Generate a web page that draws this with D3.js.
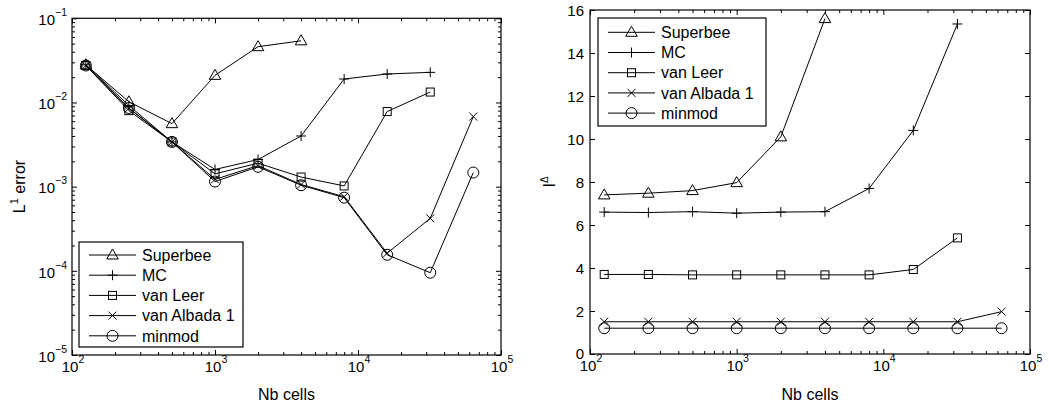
<!DOCTYPE html>
<html>
<head>
<meta charset="utf-8">
<script src="https://cdn.jsdelivr.net/npm/d3@7"></script>
<style>
  body { margin: 0; background: #fff; }
  svg { display: block; }
  text { font-family: "Liberation Sans", Arial, Helvetica, sans-serif; fill: #000; }
</style>
</head>
<body>
<svg id="chart" width="1049" height="406"></svg>
<script>
// number of cells on the x axis (same for both panels)
const cells = [125, 250, 500, 1000, 2000, 4000, 8000, 16000, 32000, 64000];

const limiterNames = ["Superbee", "MC", "van Leer", "van Albada 1", "minmod"];
const limiterSymbols = ["triangle", "plus", "square", "cross", "circle"];

// left panel: L1 error
const errSuperbee = [0.028, 0.0102, 0.0056, 0.021, 0.046, 0.054];
const errMC = [0.028, 0.0092, 0.0034, 0.0016, 0.0021, 0.0040, 0.019, 0.0218, 0.0228];
const errVanLeer = [0.0275, 0.0080, 0.0034, 0.00142, 0.0019, 0.0013, 0.00102, 0.0078, 0.0133];
const errVanAlbada = [0.0275, 0.0085, 0.0034, 0.00122, 0.00178, 0.00106, 0.00076, 0.000162, 0.00042, 0.0068];
const errMinmod = [0.0275, 0.0086, 0.0034, 0.00115, 0.00172, 0.00104, 0.00074, 0.000155, 0.000095, 0.00147];

// right panel: I^Delta
const idxSuperbee = [7.4, 7.48, 7.6, 7.97, 10.1, 15.6];
const idxMC = [6.6, 6.58, 6.62, 6.55, 6.6, 6.62, 7.7, 10.4, 15.35];
const idxVanLeer = [3.7, 3.7, 3.68, 3.68, 3.68, 3.68, 3.68, 3.93, 5.4];
const idxVanAlbada = [1.5, 1.5, 1.5, 1.5, 1.5, 1.5, 1.5, 1.5, 1.5, 1.97];
const idxMinmod = [1.2, 1.2, 1.2, 1.2, 1.2, 1.2, 1.2, 1.2, 1.2, 1.2];

const errSeries = [errSuperbee, errMC, errVanLeer, errVanAlbada, errMinmod];
const idxSeries = [idxSuperbee, idxMC, idxVanLeer, idxVanAlbada, idxMinmod];

const xDecades = [2, 3, 4, 5];
const errDecades = [-5, -4, -3, -2, -1];
const idxTicks = [0, 2, 4, 6, 8, 10, 12, 14, 16];

const svg = d3.select("#chart");

const MAJOR = 5;
const MINOR = 3;

function drawMarker(g, type, x, y) {
  const m = g.append("g").attr("transform", `translate(${x},${y})`);
  if (type === "triangle") {
    m.append("path").attr("d", "M0,-6L5.8,4L-5.8,4Z");
  } else if (type === "plus") {
    m.append("path").attr("d", "M-5,0H5M0,-5V5");
  } else if (type === "square") {
    m.append("rect").attr("x", -4).attr("y", -4).attr("width", 8).attr("height", 8);
  } else if (type === "cross") {
    m.append("path").attr("d", "M-4,-4L4,4M-4,4L4,-4");
  } else {
    m.append("circle").attr("r", 5.5);
  }
  m.selectAll("*").attr("fill", "none").attr("stroke", "#000").attr("stroke-width", 1);
}

function supLabel(g, x, y, base, exp, anchor) {
  const t = g.append("text")
    .attr("x", x).attr("y", y)
    .attr("text-anchor", anchor)
    .style("font-size", "15px");
  t.append("tspan").text(base);
  t.append("tspan").attr("dy", -9).style("font-size", "10.5px").text(exp);
  return t;
}

function drawPanel(p) {
  const g = svg.append("g");
  const x = p.x, y = p.y;
  const [x0, x1] = x.range();
  const [yb, yt] = y.range();

  // lines + markers
  p.series.forEach((vals, i) => {
    const pts = vals.map((v, j) => [x(cells[j]), y(v)]);
    g.append("path")
      .attr("d", d3.line()(pts))
      .attr("fill", "none")
      .attr("stroke", "#000")
      .attr("stroke-width", 1);
    pts.forEach(([px, py]) => drawMarker(g, limiterSymbols[i], px, py));
  });

  // ticks (inside, all four sides)
  const xMinor = x.ticks().filter(d => Math.abs(Math.log10(d) % 1) > 1e-6);
  const xMajor = xDecades.map(e => Math.pow(10, e));
  const tickAxis = (axisFn, scale, vals, size, tx, ty) => {
    const a = g.append("g")
      .attr("transform", `translate(${tx},${ty})`)
      .call(axisFn(scale).tickValues(vals).tickSize(-size).tickSizeOuter(0).tickFormat(""));
    a.select(".domain").remove();
    a.selectAll("line").attr("stroke", "#000");
  };
  tickAxis(d3.axisBottom, x, xMajor, MAJOR, 0, yb);
  tickAxis(d3.axisBottom, x, xMinor, MINOR, 0, yb);
  tickAxis(d3.axisTop, x, xMajor, MAJOR, 0, yt);
  tickAxis(d3.axisTop, x, xMinor, MINOR, 0, yt);
  tickAxis(d3.axisLeft, y, p.yMajor, MAJOR, x0, 0);
  tickAxis(d3.axisRight, y, p.yMajor, MAJOR, x1, 0);
  if (p.yMinor.length) {
    tickAxis(d3.axisLeft, y, p.yMinor, MINOR, x0, 0);
    tickAxis(d3.axisRight, y, p.yMinor, MINOR, x1, 0);
  }

  // box
  g.append("rect")
    .attr("x", x0).attr("y", yt)
    .attr("width", x1 - x0).attr("height", yb - yt)
    .attr("fill", "none").attr("stroke", "#000").attr("stroke-width", 1.2);

  // x tick labels
  xDecades.forEach(e => supLabel(g, x(Math.pow(10, e)) + 1, yb + 17, "10", String(e), "middle"));

  // y tick labels
  p.yLabels(g);

  // axis titles
  g.append("text")
    .attr("x", (x0 + x1) / 2).attr("y", 400)
    .attr("text-anchor", "middle")
    .style("font-size", "16px")
    .text("Nb cells");
  p.yTitle(g);

  // legend
  const L = p.legend;
  const lg = g.append("g").attr("transform", `translate(${L.x},${L.y})`);
  lg.append("rect")
    .attr("width", L.w).attr("height", L.h)
    .attr("fill", "#fff").attr("stroke", "#000").attr("stroke-width", 1.2);
  limiterNames.forEach((name, i) => {
    const cy = L.first + i * L.step;
    lg.append("line")
      .attr("x1", 10).attr("x2", 57).attr("y1", cy).attr("y2", cy)
      .attr("stroke", "#000");
    drawMarker(lg, limiterSymbols[i], 33.5, cy);
    lg.append("text")
      .attr("x", 63).attr("y", cy + 5.7)
      .style("font-size", "16px")
      .text(name);
  });
}

// left panel
const xLeft = d3.scaleLog().domain([1e2, 1e5]).range([72, 501]);
const yLeft = d3.scaleLog().domain([1e-5, 1e-1]).range([355, 18.3]);
drawPanel({
  x: xLeft,
  y: yLeft,
  series: errSeries,
  yMajor: errDecades.map(e => Math.pow(10, e)),
  yMinor: yLeft.ticks().filter(d => Math.abs(Math.log10(d) % 1) > 1e-6),
  yLabels: g => errDecades.forEach(e =>
    supLabel(g, 67, yLeft(Math.pow(10, e)) + 6.7, "10", "\u2212" + Math.abs(e), "end")),
  yTitle: g => {
    const t = g.append("text")
      .attr("transform", "translate(25,186.5) rotate(-90)")
      .attr("text-anchor", "middle")
      .style("font-size", "16px");
    t.append("tspan").text("L");
    t.append("tspan").attr("dy", -7).style("font-size", "11px").text("1");
    t.append("tspan").attr("dy", 7).text(" error");
  },
  legend: { x: 79, y: 242, w: 164, h: 105, first: 13, step: 20.2 }
});

// right panel
const xRight = d3.scaleLog().domain([1e2, 1e5]).range([590, 1030]);
const yRight = d3.scaleLinear().domain([0, 16]).range([354, 10]);
drawPanel({
  x: xRight,
  y: yRight,
  series: idxSeries,
  yMajor: idxTicks,
  yMinor: [],
  yLabels: g => idxTicks.forEach(v =>
    g.append("text")
      .attr("x", 584).attr("y", yRight(v) + (v === 0 ? 4.5 : 5.5))
      .attr("text-anchor", "end")
      .style("font-size", "15px")
      .text(v)),
  yTitle: g => {
    const t = g.append("text")
      .attr("transform", "translate(555,182) rotate(-90)")
      .attr("text-anchor", "middle")
      .style("font-size", "16px");
    t.append("tspan").text("I");
    t.append("tspan").attr("dy", -7).style("font-size", "10px").text("\u0394");
  },
  legend: { x: 598, y: 18, w: 168, h: 108, first: 14.3, step: 20.2 }
});
</script>
</body>
</html>
